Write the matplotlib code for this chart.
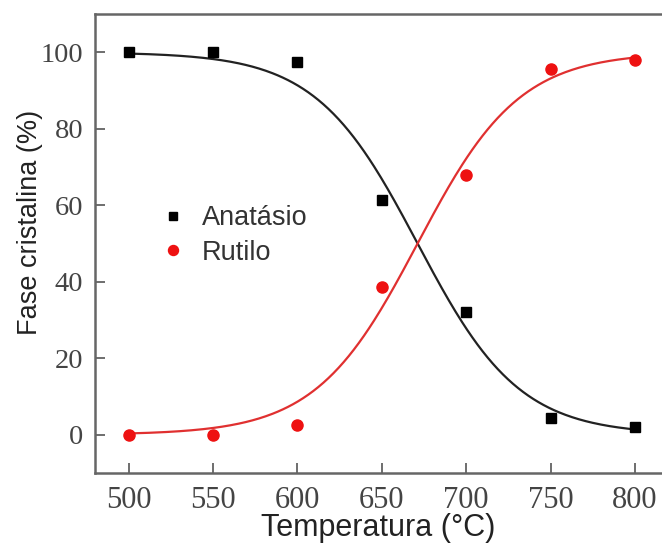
import numpy as np
import matplotlib
matplotlib.use("Agg")
import matplotlib.pyplot as plt

temperature = [500, 550, 600, 650, 700, 750, 800]
anatase = [100, 100, 97.5, 61.5, 32, 4.5, 2]
rutile = [0, 0, 2.5, 38.5, 68, 95.5, 98]
xticks = [500, 550, 600, 650, 700, 750, 800]
yticks = [0, 20, 40, 60, 80, 100]


def boltzmann(x, a1, a2, x0, dx):
    return a2 + (a1 - a2) / (1.0 + np.exp((x - x0) / dx))


def fit(x, y, a1, a2):
    x = np.asarray(x, float)
    y = np.asarray(y, float)
    x0s = np.arange(620, 720, 0.2)[:, None, None]
    dxs = np.arange(10, 60, 0.2)[None, :, None]
    pred = a2 + (a1 - a2) / (1.0 + np.exp((x[None, None, :] - x0s) / dxs))
    err = ((pred - y[None, None, :]) ** 2).sum(axis=2)
    i, j = np.unravel_index(np.argmin(err), err.shape)
    return x0s[i, 0, 0], dxs[0, j, 0]


xa0, dxa = fit(temperature, anatase, 100, 0)
xr0, dxr = fit(temperature, rutile, 0, 100)
xs = np.linspace(500, 800, 300)

fig = plt.figure(figsize=(6.62, 5.47), dpi=100)
ax = fig.add_axes([95 / 662, 1 - 473 / 547, (662 - 95) / 662 + 0.01, (473 - 14) / 547])

ax.plot(xs, boltzmann(xs, 100, 0, xa0, dxa), color="#222222", lw=1.6, zorder=2)
ax.plot(xs, boltzmann(xs, 0, 100, xr0, dxr), color="#e03030", lw=1.6, zorder=2)
ax.plot(temperature, anatase, ls="none", marker="s", ms=7, color="black", label="Anatásio", zorder=3)
ax.plot(temperature, rutile, ls="none", marker="o", ms=8, color="#ee1111", label="Rutilo", zorder=3)

ax.set_xlim(480, 820)
ax.set_ylim(-10, 110)
ax.set_xticks(xticks)
ax.set_yticks(yticks)
for lab in ax.get_xticklabels():
    lab.set_fontfamily("Liberation Serif")
    lab.set_fontsize(22)
    lab.set_color("#444444")
for lab in ax.get_yticklabels():
    lab.set_fontfamily("Liberation Serif")
    lab.set_fontsize(20.5)
    lab.set_color("#444444")
ax.tick_params(direction="in", length=7, width=1.2, color="#555555")
ax.tick_params(axis="x", pad=9)
ax.tick_params(axis="y", pad=8.5)
for s in ["left", "bottom", "top"]:
    ax.spines[s].set_color("#666666")
    ax.spines[s].set_linewidth(1.8)
ax.spines["right"].set_visible(False)

ax.set_xlabel("Temperatura (°C)", fontfamily="Liberation Sans", fontsize=22, color="#222222")
ax.xaxis.set_label_coords((378 - 95) / 573.6, (473 - 513) / 459, transform=ax.transAxes)
ax.xaxis.label.set_va("top")
ax.set_ylabel("Fase cristalina (%)", fontfamily="Liberation Sans", fontsize=19.5, color="#222222")
ax.yaxis.set_label_coords((43 - 95) / 573.6, (473 - 222) / 459, transform=ax.transAxes)

leg = ax.legend(loc="upper left", bbox_to_anchor=(0.07, 0.636), frameon=False,
                prop={"family": "Liberation Sans", "size": 19.5}, handletextpad=0.55,
                labelspacing=0.3, handlelength=1.0, markerscale=0.9)
for t in leg.get_texts():
    t.set_color("#333333")

fig.savefig("out.png", dpi=100)
